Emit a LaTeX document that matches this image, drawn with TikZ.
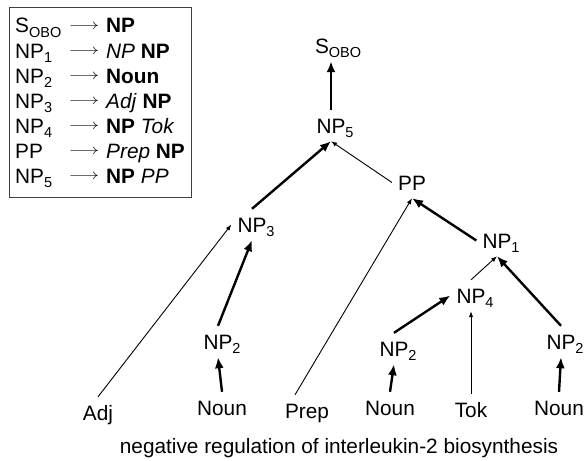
\documentclass[tikz,border=0pt]{standalone}
\usepackage{fontspec}
\setmainfont{Liberation Sans}
\usetikzlibrary{arrows.meta}
\newcommand{\sub}[1]{\rlap{\raisebox{-4.5pt}{\fontsize{14.5}{15}\selectfont #1}}}
\newcommand{\yield}{\scalebox{1.3}[1]{$\longrightarrow$}}

\begin{document}
\begin{tikzpicture}[x=1pt,y=-1pt,
    font=\fontsize{20.8}{25}\selectfont,
    cat/.style={anchor=base,inner xsep=6pt,inner ysep=8pt,text height=15pt,text depth=0pt},
    lhs/.style={anchor=base west,inner sep=0pt},
    yields/.style={inner sep=0pt,font=\fontsize{15}{16}\selectfont},
    strongarc/.style={line width=2.4pt,-{Latex[length=11pt,width=9pt]}},
    weakarc/.style={line width=0.9pt,-{Latex[length=6pt,width=4.5pt]}}]
  \useasboundingbox (0,0) rectangle (585,460);
  % grammar
  \draw[black!75,line width=1pt] (9,8) rectangle (191,197);
  \draw
    (15,33) node[lhs] (l1) {S\sub{OBO}}
    (15,58) node[lhs] (l2) {NP\sub{1}}
    (15,83) node[lhs] (l3) {NP\sub{2}}
    (15,108) node[lhs] (l4) {NP\sub{3}}
    (15,133) node[lhs] (l5) {NP\sub{4}}
    (15,158) node[lhs] (l6) {PP}
    (15,183) node[lhs] (l7) {NP\sub{5}}
    (84,27) node[yields] (a1) {\yield}
    (84,52) node[yields] (a2) {\yield}
    (84,77) node[yields] (a3) {\yield}
    (84,102) node[yields] (a4) {\yield}
    (84,127) node[yields] (a5) {\yield}
    (84,152) node[yields] (a6) {\yield}
    (84,177) node[yields] (a7) {\yield}
    (106,33) node[lhs] (r1) {\textbf{NP}}
    (106,58) node[lhs] (r2) {\textit{NP} \textbf{NP}}
    (106,83) node[lhs] (r3) {\textbf{Noun}}
    (106,108) node[lhs] (r4) {\textit{Adj} \textbf{NP}}
    (106,133) node[lhs] (r5) {\textbf{NP} \textit{Tok}}
    (106,158) node[lhs] (r6) {\textit{Prep} \textbf{NP}}
    (106,183) node[lhs] (r7) {\textbf{NP} \textit{PP}};
  % parse
  \draw
    (322,53) node[cat] (s) {S\sub{OBO}}
    (331,133) node[cat] (np5) {NP\sub{5}}
    (412,190) node[cat] (pp) {PP}
    (252,232) node[cat] (np3) {NP\sub{3}}
    (497,248) node[cat] (np1) {NP\sub{1}}
    (471,303) node[cat] (np4) {NP\sub{4}}
    (218,349) node[cat] (np2a) {NP\sub{2}}
    (394,356) node[cat] (np2b) {NP\sub{2}}
    (561,349) node[cat] (np2c) {NP\sub{2}}
    (98,420) node[cat] (adj) {Adj}
    (222,415) node[cat] (nouna) {Noun}
    (307,418) node[cat] (prep) {Prep}
    (390,415) node[cat] (nounb) {Noun}
    (471,417) node[cat] (tok) {Tok}
    (559,415) node[cat] (nounc) {Noun}
    (339,453) node[anchor=base] (caption) {negative regulation of interleukin-2 biosynthesis};
  \begin{scope}[strongarc]
    \draw (np5.north) to (np5.north |- s.south);
    \draw (np3.north) to (np5.south);
    \draw (np1.west) to (pp.south);
    \draw (np2a.north) to (np3.south);
    \draw (nouna.north) to (np2a.south);
    \draw (np2b.north) to (np4.west);
    \draw (nounb.north) to (np2b.south);
    \draw (np2c.north) to (np1.south);
    \draw (nounc.north) to (np2c.south);
  \end{scope}
  \begin{scope}[weakarc]
    \draw (pp.west) to (np5.south);
    \draw (adj.north) to (np3.west);
    \draw ([xshift=-12pt]prep.north) to (pp.south);
    \draw (np4.north) to (np1.south);
    \draw (tok.north) to (np4.south);
  \end{scope}
\end{tikzpicture}
\end{document}
